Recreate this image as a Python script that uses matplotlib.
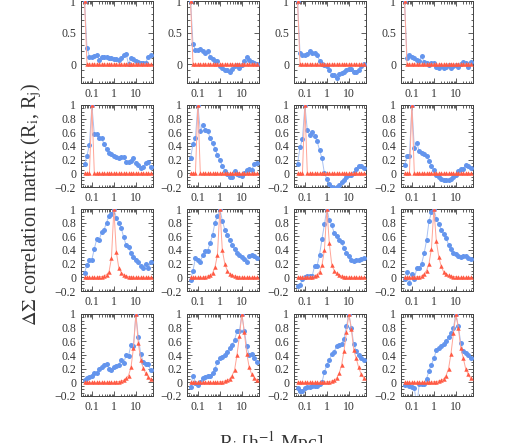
import numpy as np
import matplotlib
matplotlib.use("Agg")
import matplotlib.pyplot as plt
from matplotlib.ticker import FixedLocator, LogLocator, NullFormatter, FuncFormatter, MultipleLocator

plt.rcParams['font.family'] = ['Liberation Serif', 'DejaVu Serif']
plt.rcParams['mathtext.fontset'] = 'stix'

# ── radial bins (9 per decade) ─────────────────────────────────────────────
R = [0.0464, 0.0599, 0.0774, 0.1, 0.129, 0.167, 0.215, 0.278, 0.359, 0.464,
     0.599, 0.774, 1.0, 1.29, 1.67, 2.15, 2.78, 3.59, 4.64, 5.99, 7.74, 10.0,
     12.9, 16.7, 21.5, 27.8, 35.9, 46.4]

# ── measured correlation (blue), rows = R_i bin, cols = case ──────────────
blue_r1c1 = [1.0, 0.26, 0.12, 0.12, 0.13, 0.15, 0.07, 0.11, 0.12, 0.11, 0.10, 0.10, 0.08, 0.08,
             0.07, 0.09, 0.14, 0.16, 0.00, 0.09, 0.08, 0.05, 0.03, 0.01, 0.02, 0.02, 0.11, 0.14]
blue_r1c2 = [1.0, 0.32, 0.22, 0.22, 0.24, 0.20, 0.18, 0.20, 0.12, 0.08, 0.05, 0.05, -0.03, -0.06,
             -0.09, -0.10, -0.12, -0.08, -0.03, -0.02, -0.06, -0.02, 0.05, 0.12, 0.07, 0.04, 0.02, 0.0]
blue_r1c3 = [1.0, 0.18, 0.15, 0.15, 0.16, 0.20, 0.18, 0.17, 0.15, 0.05, 0.00, -0.02, -0.03, -0.10,
             -0.17, -0.18, -0.22, -0.15, -0.14, -0.12, -0.10, -0.08, -0.08, -0.12, -0.12, -0.10, -0.03, 0.0]
blue_r1c4 = [1.0, 0.10, 0.15, 0.12, 0.10, 0.07, 0.05, 0.13, 0.03, 0.02, -0.02, 0.01, 0.02, -0.05,
             -0.07, -0.03, -0.06, -0.05, -0.02, -0.06, -0.03, -0.01, -0.04, 0.00, 0.03, 0.02, -0.04, 0.04]

blue_r2c1 = [0.13, 0.26, 0.42, 1.0, 0.57, 0.58, 0.52, 0.51, 0.43, 0.35, 0.30, 0.28, 0.26, 0.24,
             0.23, 0.24, 0.24, 0.17, 0.17, 0.18, 0.22, 0.15, 0.12, 0.08, 0.09, 0.15, 0.17, 0.09]
blue_r2c2 = [0.22, 0.43, 0.52, 1.0, 0.62, 0.70, 0.64, 0.62, 0.52, 0.44, 0.36, 0.27, 0.19, 0.11,
             0.04, -0.01, -0.05, -0.05, 0.04, -0.01, -0.03, -0.04, 0.00, 0.05, 0.06, 0.05, 0.13, 0.15]
blue_r2c3 = [0.14, 0.38, 0.50, 1.0, 0.63, 0.56, 0.60, 0.55, 0.47, 0.34, 0.22, 0.00, -0.08, -0.15,
             -0.20, -0.22, -0.20, -0.17, -0.12, -0.10, -0.06, -0.03, -0.02, 0.01, 0.07, 0.10, 0.11, 0.08]
blue_r2c4 = [0.12, 0.25, 0.25, 1.0, 0.37, 0.45, 0.32, 0.30, 0.28, 0.26, 0.18, 0.10, 0.05, -0.02,
             -0.05, -0.08, -0.10, -0.10, -0.10, -0.09, -0.06, -0.02, 0.04, 0.06, 0.07, 0.12, 0.10, 0.08]

blue_r3c1 = [0.07, 0.18, 0.25, 0.26, 0.42, 0.56, 0.55, 0.66, 0.70, 0.80, 0.90, 0.92, 1.0, 0.87,
             0.80, 0.72, 0.59, 0.47, 0.44, 0.36, 0.30, 0.26, 0.22, 0.17, 0.14, 0.20, 0.13, 0.22]
blue_r3c2 = [-0.04, 0.10, 0.28, 0.25, 0.23, 0.32, 0.38, 0.39, 0.50, 0.62, 0.80, 0.90, 1.0, 0.83,
             0.70, 0.62, 0.55, 0.47, 0.42, 0.36, 0.32, 0.30, 0.27, 0.23, 0.31, 0.32, 0.31, 0.29]
blue_r3c3 = [-0.12, -0.11, -0.03, 0.01, 0.02, 0.02, 0.02, 0.17, 0.17, 0.33, 0.56, 0.78, 1.0, 0.84,
             0.76, 0.65, 0.60, 0.55, 0.51, 0.43, 0.36, 0.31, 0.26, 0.24, 0.25, 0.26, 0.27, 0.28]
blue_r3c4 = [-0.02, 0.08, -0.08, 0.05, -0.02, 0.13, 0.14, 0.20, 0.35, 0.54, 0.82, 0.95, 1.0, 0.86,
             0.78, 0.70, 0.63, 0.57, 0.48, 0.42, 0.35, 0.34, 0.31, 0.30, 0.31, 0.31, 0.29, 0.27]

blue_r4c1 = [0.03, 0.06, 0.08, 0.10, 0.13, 0.14, 0.20, 0.22, 0.25, 0.27, 0.20, 0.18, 0.22, 0.24,
             0.26, 0.32, 0.28, 0.40, 0.39, 0.55, 0.53, 1.0, 0.66, 0.41, 0.30, 0.27, 0.27, 0.18]
blue_r4c2 = [-0.07, 0.10, -0.01, -0.04, 0.00, 0.06, 0.08, 0.10, 0.09, 0.14, 0.20, 0.30, 0.35, 0.37,
             0.40, 0.45, 0.50, 0.55, 0.62, 0.75, 0.75, 1.0, 0.75, 0.53, 0.40, 0.41, 0.35, 0.30]
blue_r4c3 = [-0.08, -0.12, -0.12, -0.08, -0.07, -0.07, -0.06, -0.06, -0.05, -0.03, 0.00, 0.15, 0.26, 0.33,
             0.41, 0.45, 0.53, 0.55, 0.56, 0.64, 0.82, 1.0, 0.80, 0.56, 0.46, 0.40, 0.36, 0.33]
blue_r4c4 = [-0.04, -0.03, -0.05, -0.07, -0.08, -0.35, -0.03, -0.03, -0.02, 0.05, 0.17, 0.26, 0.35, 0.47,
             0.50, 0.53, 0.56, 0.60, 0.66, 0.72, 0.80, 1.0, 0.82, 0.58, 0.46, 0.43, 0.40, 0.36]

# ── model correlation (red) ────────────────────────────────────────────────
red_r1 = [1.0, 0, 0, 0, 0, 0, 0, 0, 0, 0, 0, 0, 0, 0,
          0, 0, 0, 0, 0, 0, 0, 0, 0, 0, 0, 0, 0, 0]
red_r2 = [0, 0, 0, 1.0, 0, 0, 0, 0, 0, 0, 0, 0, 0, 0,
          0, 0, 0, 0, 0, 0, 0, 0, 0, 0, 0, 0, 0, 0]

red_r3c1 = [0, 0, 0, 0, 0, 0, 0.01, 0.01, 0.02, 0.04, 0.08, 0.28, 1.0, 0.37,
            0.14, 0.07, 0.04, 0.02, 0.01, 0.01, 0, 0, 0, 0, 0, 0, 0, 0]
red_r3c2 = [0, 0, 0, 0, 0, 0, 0.01, 0.02, 0.03, 0.06, 0.15, 0.33, 1.0, 0.40,
            0.20, 0.10, 0.05, 0.03, 0.02, 0.01, 0.01, 0, 0, 0, 0, 0, 0, 0]
red_r3c3 = [0, 0, 0, 0, 0, 0.01, 0.01, 0.02, 0.04, 0.08, 0.18, 0.40, 1.0, 0.50,
            0.18, 0.10, 0.06, 0.03, 0.02, 0.01, 0.01, 0, 0, 0, 0, 0, 0, 0]
red_r3c4 = [0, 0, 0, 0, 0, 0.01, 0.01, 0.02, 0.05, 0.10, 0.20, 0.42, 1.0, 0.53,
            0.30, 0.16, 0.08, 0.05, 0.03, 0.02, 0.01, 0.01, 0, 0, 0, 0, 0, 0]

red_r4c1 = [0, 0, 0, 0, 0, 0, 0, 0, 0, 0, 0, 0, 0, 0.01,
            0.01, 0.02, 0.03, 0.06, 0.10, 0.22, 0.50, 1.0, 0.57, 0.33, 0.21, 0.13, 0.08, 0.05]
red_r4c2 = [0, 0, 0, 0, 0, 0, 0, 0, 0, 0, 0, 0, 0.01, 0.01,
            0.02, 0.03, 0.05, 0.10, 0.18, 0.40, 0.68, 1.0, 0.73, 0.42, 0.22, 0.12, 0.07, 0.04]
red_r4c3 = [0, 0, 0, 0, 0, 0, 0, 0, 0, 0, 0, 0, 0.01, 0.01,
            0.02, 0.03, 0.06, 0.13, 0.25, 0.46, 0.73, 1.0, 0.78, 0.47, 0.35, 0.22, 0.12, 0.07]
red_r4c4 = [0, 0, 0, 0, 0, 0, 0, 0, 0, 0, 0, 0, 0.01, 0.01,
            0.02, 0.03, 0.05, 0.10, 0.20, 0.42, 0.72, 1.0, 0.80, 0.50, 0.36, 0.20, 0.12, 0.06]

BLUE = [[blue_r1c1, blue_r1c2, blue_r1c3, blue_r1c4],
        [blue_r2c1, blue_r2c2, blue_r2c3, blue_r2c4],
        [blue_r3c1, blue_r3c2, blue_r3c3, blue_r3c4],
        [blue_r4c1, blue_r4c2, blue_r4c3, blue_r4c4]]
RED = [[red_r1] * 4,
       [red_r2] * 4,
       [red_r3c1, red_r3c2, red_r3c3, red_r3c4],
       [red_r4c1, red_r4c2, red_r4c3, red_r4c4]]

W, H = 518, 443
COL_X = [81, 187, 294, 401]      # left edge of each panel (px)
ROW_Y = [1, 105, 209, 314]       # top edge of each panel (px)
PW, PH = 72, 82

C_BLUE, C_BLUE_L = '#6495ed', '#a9c1f2'
C_RED, C_RED_L = '#ff5a44', '#ffa597'
FRAME = '#444444'

fmt = FuncFormatter(lambda v, p: ('%g' % v).replace('-', '\u2212'))

fig = plt.figure(figsize=(W / 100, H / 100), dpi=100)

for r in range(4):
    for c in range(4):
        ax = fig.add_axes([COL_X[c] / W, 1 - (ROW_Y[r] + PH) / H, PW / W, PH / H])
        ax.plot(R, BLUE[r][c], '-', color=C_BLUE_L, lw=0.7, zorder=2)
        ax.plot(R, BLUE[r][c], 'o', color=C_BLUE, ms=3.6, mec='none', zorder=3)
        ax.plot(R, RED[r][c], '-', color=C_RED_L, lw=0.7, zorder=4)
        ax.plot(R, RED[r][c], '^', color=C_RED, ms=3.2, mec='none', zorder=5)

        ax.set_xscale('log')
        ax.set_xlim(0.032, 60)
        ax.xaxis.set_major_locator(FixedLocator([0.1, 1, 10]))
        ax.xaxis.set_minor_locator(LogLocator(base=10, subs=np.arange(2, 10)))
        ax.xaxis.set_minor_formatter(NullFormatter())
        ax.xaxis.set_major_formatter(FuncFormatter(lambda v, p: '%g' % v))

        if r == 0:
            ax.set_ylim(-0.3, 1.0)
            ax.yaxis.set_major_locator(FixedLocator([0, 0.5, 1]))
            ax.yaxis.set_minor_locator(MultipleLocator(0.1))
        else:
            ax.set_ylim(-0.2, 1.0)
            ax.yaxis.set_major_locator(FixedLocator([-0.2, 0, 0.2, 0.4, 0.6, 0.8, 1]))
            ax.yaxis.set_minor_locator(MultipleLocator(0.05))
        ax.yaxis.set_major_formatter(fmt)

        ax.tick_params(which='both', direction='in', top=True, right=True,
                       color=FRAME, labelsize=8.5, labelcolor='#333333', width=0.6)
        ax.tick_params(which='major', length=3.5, pad=3.5)
        ax.tick_params(which='minor', length=1.8)
        for s in ax.spines.values():
            s.set_color(FRAME)
            s.set_linewidth(0.7)

fig.text(0.061, 1 - 204 / H, r'$\Delta\Sigma$ correlation matrix (R$_{\rm i}$, R$_{\rm j}$)',
         rotation=90, ha='center', va='center', fontsize=14.5, color='#333333')
fig.text(0.524, 1 - 429 / H, r'R$_{\rm i}$ [h$^{-1}$ Mpc]',
         ha='center', va='top', fontsize=14, color='#333333')

fig.savefig('out.png', dpi=100)
